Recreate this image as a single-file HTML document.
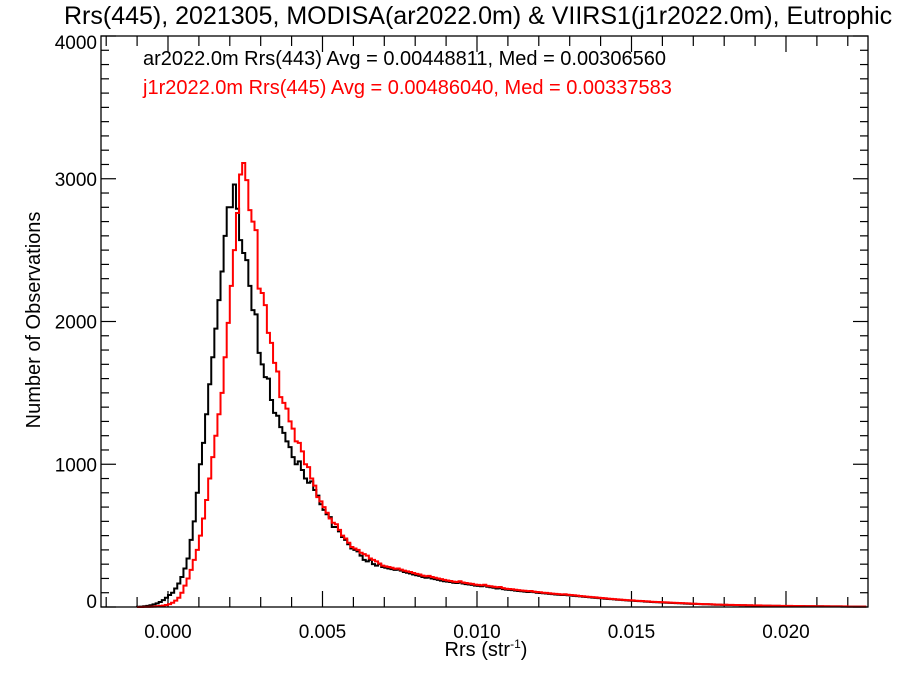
<!DOCTYPE html>
<html><head><meta charset="utf-8"><style>
body{margin:0;background:#fff}
svg text{font-family:"Liberation Sans",Arial,sans-serif}
</style></head><body>
<svg id="chart" width="900" height="675" xmlns="http://www.w3.org/2000/svg">
<text x="64" y="24" font-size="25">Rrs(445), 2021305, MODISA(ar2022.0m) &amp; VIIRS1(j1r2022.0m), Eutrophic</text>
<text x="143" y="65" font-size="20" fill="#000">ar2022.0m Rrs(443) Avg = 0.00448811, Med = 0.00306560</text>
<text x="143" y="94" font-size="20" fill="#f00">j1r2022.0m Rrs(445) Avg = 0.00486040, Med = 0.00337583</text>
<text transform="translate(40,320) rotate(-90)" text-anchor="middle" font-size="20">Number of Observations</text>
<text x="486" y="656" text-anchor="middle" font-size="20">Rrs (str<tspan font-size="12" dy="-8">-1</tspan><tspan dy="8">)</tspan></text>
<g id="ticks"></g>
<g id="series"></g>
<rect x="101" y="36" width="767" height="571" fill="none" stroke="#000" stroke-width="1.3"/>
</svg>
<script>
const binStart = -0.0010;
const binWidth = 0.0001;
const xTicks = [0.000, 0.005, 0.010, 0.015, 0.020];
const xTickLabels = ["0.000","0.005","0.010","0.015","0.020"];
const yTicks = [0, 1000, 2000, 3000, 4000];
const yTickLabels = ["0","1000","2000","3000","4000"];
const modisaCounts = [2,3,5,8,12,18,25,35,48,65,
84,100,130,165,210,270,340,470,600,800,
1000,1150,1350,1560,1750,1950,2150,2350,2600,2800,
2800,2960,2790,2570,2480,2430,2250,2080,2050,1780,
1700,1610,1600,1450,1360,1340,1260,1220,1160,1120,
1050,1000,1020,960,900,870,880,820,780,720,
680,650,630,560,560,530,490,470,440,410,
400,390,360,330,320,330,300,290,300,280,
275,270,265,260,262,255,245,240,235,228,
222,218,210,205,207,200,195,190,185,180,
178,175,170,168,172,165,160,158,155,150,
148,145,150,142,138,135,130,132,125,122,
120,118,115,112,110,108,105,107,104,100,
98,96,95,92,90,88,86,84,85,82,
80,78,76,74,72,70,68,66,64,62,
60,58,56,55,53,51,50,48,46,45,
44,42,41,40,38,37,35,34,33,32,
31,30,29,28,27,26,25,24,23,22,
22,21,20,19,19,18,17,16,16,15,
15,14,14,13,13,12,12,11,11,10,
10,10,9,9,9,8,8,8,7,7,
7,7,6,6,6,6,5,5,5,5,
5,5,4,4,4,4,4,4,3,3,
3,3,3,3,3,3];
const viirsCounts = [0,0,1,1,2,3,5,7,10,14,
20,30,45,65,100,150,200,260,330,400,
500,620,750,900,1050,1200,1350,1500,1750,1990,
2250,2500,2760,3030,3110,2990,2780,2700,2640,2230,
2200,2115,1920,1850,1710,1650,1470,1430,1390,1300,
1250,1160,1150,1090,1000,980,900,850,770,740,
700,660,620,590,580,540,500,480,450,420,
410,400,380,370,360,340,330,320,305,290,
285,280,275,268,270,262,255,250,245,238,
232,228,220,215,218,210,205,200,195,190,
186,182,178,175,180,172,168,165,162,157,
155,152,156,148,145,142,138,140,132,128,
126,124,121,118,116,114,111,112,108,105,
103,100,99,96,94,92,90,88,89,86,
84,82,80,77,75,73,71,69,67,65,
63,61,59,57,55,53,52,50,48,47,
46,44,43,42,40,39,37,36,35,34,
33,32,31,30,29,28,27,26,25,24,
23,22,21,20,20,19,18,17,17,16,
16,15,15,14,14,13,13,12,12,11,
11,11,10,10,10,9,9,9,8,8,
8,8,7,7,7,6,6,6,6,5,
5,5,5,5,4,4,4,4,4,4,
3,3,3,3,3,3];

const L=101,R=868,T=36,B=607;
const xMin=-0.002168, xMax=0.022654, yMin=0, yMax=4000;
const xs=v=>L+(v-xMin)/(xMax-xMin)*(R-L);
const ys=c=>B-(c-yMin)/(yMax-yMin)*(B-T);
const NS="http://www.w3.org/2000/svg";
const tg=document.getElementById('ticks');
function line(x1,y1,x2,y2,name){
  const l=document.createElementNS(NS,'line');
  l.setAttribute('x1',x1);l.setAttribute('y1',y1);l.setAttribute('x2',x2);l.setAttribute('y2',y2);
  l.setAttribute('stroke','#000');l.setAttribute('stroke-width','1.2');
  
  
  tg.appendChild(l);
}
function text(x,y,s,anchor,name){
  const t=document.createElementNS(NS,'text');
  t.setAttribute('x',x);t.setAttribute('y',y);t.setAttribute('font-size','19');
  t.setAttribute('text-anchor',anchor);t.textContent=s;
  
  
  tg.appendChild(t);
}
for(let k=-2;k<=22;k++){
  const v=k*0.001, x=xs(v);
  const major=(k%5===0);
  const len=major?16:10;
  line(x,B,x,B-len,'x-tick');
  line(x,T,x,T+len,'x-tick-top');
}
xTicks.forEach((v,i)=>text(xs(v),638,xTickLabels[i],'middle','x-tick-label'));
for(let c=0;c<=4000;c+=100){
  const y=ys(c), major=(c%1000===0), len=major?15:8;
  line(L,y,L+len,y,'y-tick');
  line(R,y,R-len,y,'y-tick-right');
}
yTicks.forEach((c,i)=>text(97,ys(c)+7-(c===0?6:0)+(c===4000?6:0),yTickLabels[i],'end','y-tick-label'));

const sg=document.getElementById('series');
function stepPath(counts,color,name){
  let d='';
  counts.forEach((c,i)=>{
    const x0=xs(binStart+i*binWidth), x1=xs(binStart+(i+1)*binWidth), y=ys(c);
    d+=(i===0?'M'+x0+','+ys(0)+'L'+x0+','+y:'L'+x0+','+y)+'L'+x1+','+y;
  });
  const p=document.createElementNS(NS,'path');
  p.setAttribute('d',d);p.setAttribute('fill','none');p.setAttribute('stroke',color);
  p.setAttribute('stroke-width','2');
  
  
  sg.appendChild(p);
}
stepPath(modisaCounts,'#000','modisa-histogram');
stepPath(viirsCounts,'#f00','viirs-histogram');
</script>
</body></html>
